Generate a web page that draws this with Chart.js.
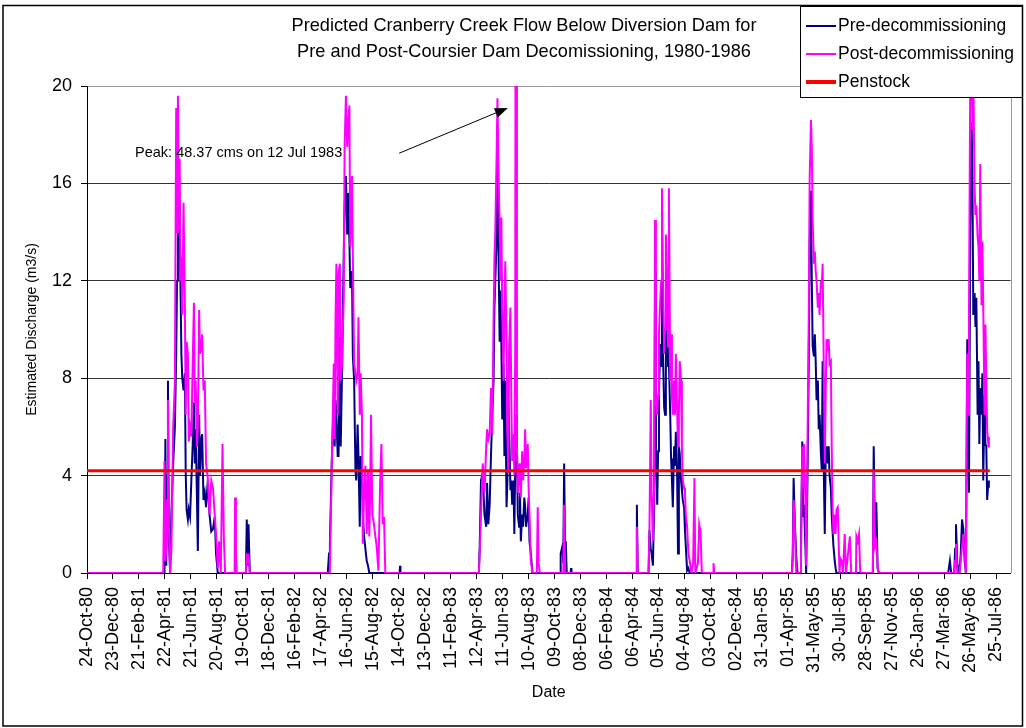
<!DOCTYPE html>
<html>
<head>
<meta charset="utf-8">
<script src="https://cdn.jsdelivr.net/npm/chart.js@4.4.1/dist/chart.umd.min.js"></script>
<style>
  html, body { margin: 0; padding: 0; background: #fff; }
  #wrap { width: 1026px; height: 728px; }
</style>
</head>
<body>
<div id="wrap"><canvas id="flowChart" width="1026" height="728"></canvas></div>
<script>
// days counted from 24-Oct-1980, flows in m3/s
var days = [
  0, 176, 179, 181, 183, 185, 187, 189, 192, 195, 199, 203, 206, 208, 210, 212, 214, 216, 218, 220,
  223, 226, 228, 230, 233, 235, 238, 241, 244, 247, 249, 251, 254, 256, 259, 261, 264, 266, 269, 272,
  275, 279, 283, 287, 291, 295, 298, 302, 305, 309, 313, 316, 319, 341, 342, 344, 346, 367, 369, 371,
  373, 376,
  556, 559, 561, 565, 568, 570, 572, 574, 576, 579, 581, 584, 586, 589, 593, 595, 598, 601, 603, 606,
  608, 612, 614, 617, 620, 622, 625, 627, 630, 632, 635, 637, 640, 643, 646, 649, 652, 654, 656, 659,
  662, 666, 669, 673, 677, 680, 683, 686, 689, 722, 723, 724,
  905, 907, 910, 914, 918, 922, 924, 927, 930, 933, 936, 939, 941, 943, 946, 948, 950, 953, 955, 957,
  959, 962, 964, 966, 969, 971, 973, 975, 978, 980, 982, 985, 987, 989, 991, 993, 995, 998, 1000, 1002,
  1005, 1007, 1010, 1012, 1014, 1018, 1020, 1022, 1025, 1029, 1039, 1041, 1043, 1046, 1093, 1094, 1098, 1100, 1102, 1104,
  1106, 1108, 1117, 1118, 1119,
  1268, 1270, 1272, 1297, 1299, 1302, 1304, 1307, 1310, 1312, 1314, 1317, 1319, 1321, 1324, 1326, 1328, 1330, 1333, 1335,
  1337, 1340, 1342, 1344, 1347, 1349, 1351, 1353, 1356, 1358, 1360, 1363, 1365, 1367, 1369, 1372, 1374, 1376, 1379, 1381,
  1383, 1386, 1389, 1392, 1396, 1400, 1403, 1405, 1411, 1414, 1417, 1420, 1446, 1447, 1449,
  1628, 1630, 1632, 1635, 1638, 1641, 1647, 1649, 1652, 1654, 1656, 1659, 1661, 1664, 1667, 1669, 1672, 1674, 1676, 1679,
  1681, 1683, 1685, 1688, 1690, 1692, 1695, 1697, 1699, 1702, 1704, 1706, 1708, 1711, 1713, 1715, 1718, 1720, 1722, 1724,
  1727, 1729, 1731, 1734, 1736, 1738, 1740, 1743, 1746, 1750, 1753, 1762, 1765, 1776, 1777, 1780, 1783, 1786, 1815, 1817,
  1820, 1823, 1826, 1829,
  1989, 1993, 1996, 2003, 2005, 2007, 2010, 2015, 2018, 2021, 2024, 2027, 2030, 2033, 2035, 2037, 2040, 2043, 2045, 2047,
  2050, 2052, 2054, 2057, 2059, 2061, 2063, 2066, 2068, 2070, 2073, 2075, 2077, 2079, 2082, 2083
];
var preFlow = [
  0, 0, 0, 5.5, 0.3, 4.0, 7.9, 1.5, 0, 2.5, 4.5, 6.0, 9.0, 12.0, 15.6, 13.5, 14.5, 11.7, 9.0, 8.0,
  7.5, 8.2, 4.1, 2.6, 2.2, 2.6, 2.3, 3.8, 5.2, 7.0, 4.5, 5.9, 3.0, 0.9, 6.5, 4.0, 5.5, 5.7, 3.0, 3.3,
  2.7, 3.8, 2.4, 1.7, 1.8, 2.3, 0.8, 0, 0, 0, 0, 0, 0, 0, 0, 0, 0, 0, 2.2, 0.3,
  2.0, 0,
  0, 0.8, 1.2, 4.4, 6.1, 6.0, 5.2, 7.1, 6.5, 4.8, 4.8, 9.7, 5.2, 8.2, 13.2, 15.0, 16.3, 13.9, 15.6, 13.7,
  11.7, 12.4, 8.9, 7.9, 4.2, 3.8, 6.1, 4.8, 1.9, 4.8, 4.5, 2.4, 1.5, 1.0, 0.5, 0.3, 0, 0, 0, 0,
  0, 0, 0, 0, 0, 0, 0, 0, 0, 0, 0.3, 0,
  0, 1.1, 3.8, 4.1, 2.4, 1.9, 3.7, 2.0, 2.8, 4.8, 6.5, 7.9, 10.9, 12.0, 13.7, 16.7, 13.8, 9.5, 11.6, 9.5,
  6.3, 8.6, 4.8, 7.9, 2.7, 3.8, 7.1, 5.9, 3.4, 3.8, 2.8, 3.8, 1.6, 4.4, 6.5, 5.2, 2.4, 1.9, 3.3, 1.3,
  2.4, 1.9, 3.1, 2.7, 1.9, 2.4, 3.1, 1.3, 0.8, 0, 0, 0, 0, 0, 0, 0.8, 1.1, 0.4, 4.5, 1.3,
  1.2, 0, 0, 0.2, 0,
  0, 2.8, 0, 0, 1.75, 1.0, 0.8, 0.3, 2.8, 12.4, 5.1, 2.8, 5.0, 7.4, 9.4, 8.5, 12.0, 9.2, 6.8, 6.5,
  9.7, 11.3, 8.5, 8.6, 6.5, 4.7, 3.8, 2.7, 5.2, 4.4, 5.8, 4.0, 0.8, 5.2, 4.9, 3.8, 3.4, 3.0, 2.7, 1.8,
  1.1, 0.1, 0.2, 0, 0, 0, 0, 0, 0, 0, 0, 0, 0, 0, 0,
  0, 0.8, 3.9, 2.0, 0.7, 0, 0, 1.1, 5.4, 2.3, 2.8, 1.2, 0, 3.8, 8.6, 13.4, 15.7, 12.0, 9.3, 8.9,
  9.8, 8.7, 7.1, 7.9, 5.9, 6.5, 4.9, 4.2, 8.7, 3.8, 1.6, 4.7, 5.2, 4.5, 5.2, 4.0, 3.5, 2.4, 1.7, 1.1,
  0.5, 0.2, 0, 0, 0, 0, 0, 0, 0, 0, 0, 0, 0, 0, 0, 0, 0, 0, 0, 5.2,
  1.3, 2.9, 0.2, 0,
  0, 0.5, 0, 0, 1.0, 2.0, 0.4, 0, 0.8, 2.2, 1.8, 0.5, 0, 9.6, 6.3, 3.3, 14.0, 18.5, 16.3, 10.6,
  11.5, 10.1, 11.3, 6.5, 8.7, 5.3, 7.6, 6.5, 8.2, 3.8, 7.3, 5.3, 5.2, 3.0, 3.8, 3.5
];
var postFlow = [
  0, 0, 4.6, 0.5, 1.0, 3.0, 7.1, 2.0, 0, 1.0, 6.0, 7.8, 19.1, 14.0, 19.6, 15.4, 17.0, 12.0, 13.0, 10.6,
  15.2, 11.0, 6.5, 9.5, 9.0, 5.4, 6.0, 5.6, 8.5, 11.1, 7.0, 7.9, 5.2, 6.0, 10.8, 9.0, 9.3, 9.8, 7.5, 7.9,
  4.5, 3.9, 2.4, 3.8, 3.5, 2.4, 1.6, 0.2, 1.3, 0, 5.3, 1.5, 0, 0, 3.1, 0.8, 0, 0, 0.8, 0.4,
  0.8, 0,
  0, 0, 0.3, 4.0, 6.8, 8.6, 5.5, 10.4, 12.7, 6.5, 12.3, 12.7, 7.9, 8.6, 11.3, 17.5, 19.6, 17.5, 18.4, 19.2,
  13.4, 16.3, 13.0, 8.6, 8.2, 7.9, 8.2, 10.5, 6.5, 8.2, 6.5, 1.2, 3.3, 4.4, 1.6, 4.2, 1.5, 3.3, 6.5, 2.4,
  2.1, 1.5, 1.1, 0.1, 3.7, 5.3, 2.0, 2.3, 0, 0, 0, 0,
  0, 0.8, 2.4, 4.5, 3.3, 5.2, 5.9, 5.5, 5.7, 7.6, 5.7, 10.4, 12.9, 14.0, 17.1, 19.5, 17.1, 14.3, 12.0, 14.6,
  11.0, 7.9, 10.6, 12.8, 9.3, 5.9, 4.1, 9.3, 10.9, 7.2, 4.6, 5.7, 4.0, 9.3, 48.37, 5.2, 3.3, 4.5, 3.8, 3.1,
  5.0, 3.8, 4.6, 5.9, 4.3, 5.3, 3.5, 2.4, 0.5, 0, 0, 2.7, 0.4, 0, 0, 0, 0, 0, 2.8, 0,
  0, 0, 0, 0, 0,
  0, 1.9, 0, 0, 1.6, 7.1, 3.3, 1.3, 3.8, 14.5, 7.2, 6.5, 7.3, 9.8, 11.2, 12.0, 15.8, 12.7, 9.0, 10.0,
  13.9, 12.0, 9.3, 15.8, 7.9, 9.8, 7.2, 6.5, 7.9, 6.5, 9.0, 6.7, 5.2, 6.5, 8.7, 7.9, 5.2, 3.8, 3.5, 3.3,
  2.4, 1.9, 0.8, 0.5, 0, 0.4, 3.9, 0, 0.4, 2.0, 1.7, 0, 0, 0.4, 0,
  0, 0.5, 3.0, 1.9, 0, 0, 0, 0.5, 5.2, 3.5, 5.3, 3.1, 0.3, 5.2, 10.6, 16.1, 18.6, 17.5, 14.5, 12.7,
  13.2, 12.4, 12.0, 10.9, 11.5, 10.6, 12.0, 11.7, 12.7, 7.9, 4.5, 7.2, 9.6, 9.3, 9.6, 8.6, 8.7, 5.2, 2.7, 1.6,
  2.4, 1.6, 2.6, 2.7, 1.3, 0, 0.6, 0.5, 0, 1.6, 0, 1.5, 0, 0, 1.5, 1.3, 1.6, 0, 0, 4.2,
  1.1, 1.3, 0.2, 0,
  0, 0, 0, 0, 0.5, 1.2, 0, 0, 0.5, 1.1, 1.6, 0.8, 0, 9.0, 6.5, 10.6, 20.5, 21.5, 18.2, 20.5,
  15.8, 14.7, 15.1, 13.8, 13.4, 12.0, 16.8, 11.0, 13.6, 11.0, 6.5, 10.2, 7.9, 5.9, 5.2, 5.6
];
var penstockDays = [0, 2085];
var penstockFlow = [4.2, 4.2];

var tickLabels = [
  "24-Oct-80", "23-Dec-80", "21-Feb-81", "22-Apr-81", "21-Jun-81", "20-Aug-81", "19-Oct-81", "18-Dec-81",
  "16-Feb-82", "17-Apr-82", "16-Jun-82", "15-Aug-82", "14-Oct-82", "13-Dec-82", "11-Feb-83", "12-Apr-83",
  "11-Jun-83", "10-Aug-83", "09-Oct-83", "08-Dec-83", "06-Feb-84", "06-Apr-84", "05-Jun-84", "04-Aug-84",
  "03-Oct-84", "02-Dec-84", "31-Jan-85", "01-Apr-85", "31-May-85", "30-Jul-85", "28-Sep-85", "27-Nov-85",
  "26-Jan-86", "27-Mar-86", "26-May-86", "25-Jul-86"
];
var tickStep = 60;
var axisEndDay = 2133;

var titleLines = [
  "Predicted Cranberry Creek Flow Below Diversion Dam for",
  "Pre and Post-Coursier Dam Decomissioning, 1980-1986"
];
var peakText = "Peak: 48.37 cms on 12 Jul 1983";

var FONT = "'Liberation Sans', Arial, sans-serif";

function toPoints(xs, ys) {
  return xs.map((x, i) => ({ x: x, y: ys[i] }));
}

// title, legend box, peak note, frame
var decorations = {
  id: "decorations",
  beforeDraw(chart) {
    let ctx = chart.ctx;
    ctx.save();
    ctx.fillStyle = "#fff";
    ctx.fillRect(0, 0, chart.width, chart.height);
    ctx.restore();
  },
  afterDraw(chart) {
    let ctx = chart.ctx;
    let area = chart.chartArea;
    let xs = chart.scales.x;
    let ys = chart.scales.y;
    ctx.save();

    // right border of plot
    ctx.strokeStyle = "#999";
    ctx.lineWidth = 1;
    ctx.beginPath();
    ctx.moveTo(Math.round(area.right) + 0.5, area.top);
    ctx.lineTo(Math.round(area.right) + 0.5, area.bottom);
    ctx.stroke();

    // title
    ctx.fillStyle = "#000";
    ctx.font = "18.2px " + FONT;
    ctx.textAlign = "center";
    ctx.textBaseline = "middle";
    ctx.fillText(titleLines[0], 524, 26);
    ctx.fillText(titleLines[1], 524, 52);

    // peak annotation
    ctx.font = "14.5px " + FONT;
    ctx.textAlign = "left";
    ctx.fillText(peakText, xs.getPixelForValue(111), ys.getPixelForValue(17.25));
    let x0 = xs.getPixelForValue(721), y0 = ys.getPixelForValue(17.24);
    let x1 = xs.getPixelForValue(972), y1 = ys.getPixelForValue(19.1);
    let ang = Math.atan2(y1 - y0, x1 - x0);
    ctx.strokeStyle = "#000";
    ctx.lineWidth = 1;
    ctx.beginPath();
    ctx.moveTo(x0, y0);
    ctx.lineTo(x1 - 10 * Math.cos(ang), y1 - 10 * Math.sin(ang));
    ctx.stroke();
    ctx.beginPath();
    ctx.moveTo(x1, y1);
    ctx.lineTo(x1 - 13 * Math.cos(ang) + 5 * Math.sin(ang), y1 - 13 * Math.sin(ang) - 5 * Math.cos(ang));
    ctx.lineTo(x1 - 13 * Math.cos(ang) - 5 * Math.sin(ang), y1 - 13 * Math.sin(ang) + 5 * Math.cos(ang));
    ctx.closePath();
    ctx.fill();

    // legend
    let lx = 800.5, ly = 6.5, lw = 222, lh = 91;
    ctx.fillStyle = "#fff";
    ctx.fillRect(lx, ly, lw, lh);
    ctx.strokeStyle = "#000";
    ctx.strokeRect(lx, ly, lw, lh);
    let entries = chart.data.datasets.slice().sort((a, b) => a.legendRank - b.legendRank);
    ctx.font = "17.5px " + FONT;
    ctx.textBaseline = "middle";
    entries.forEach((ds, i) => {
      let cy = 26 + i * 28;
      ctx.strokeStyle = ds.borderColor;
      ctx.lineWidth = ds.legendWidth;
      ctx.beginPath();
      ctx.moveTo(806, cy);
      ctx.lineTo(836, cy);
      ctx.stroke();
      ctx.fillStyle = "#000";
      ctx.fillText(ds.label, 838, cy);
    });

    // outer frame
    ctx.strokeStyle = "#000";
    ctx.lineWidth = 1.5;
    ctx.strokeRect(3, 5.5, 1019.5, 720.5);
    ctx.restore();
  }
};

new Chart(document.getElementById("flowChart"), {
  type: "line",
  data: {
    datasets: [
      {
        label: "Pre-decommissioning",
        data: toPoints(days, preFlow),
        borderColor: "#000080",
        borderWidth: 2,
        legendRank: 0,
        legendWidth: 2,
        order: 3
      },
      {
        label: "Post-decommissioning",
        data: toPoints(days, postFlow),
        borderColor: "#FF00FF",
        borderWidth: 2,
        legendRank: 1,
        legendWidth: 2,
        order: 2
      },
      {
        label: "Penstock",
        data: toPoints(penstockDays, penstockFlow),
        borderColor: "#FF0000",
        borderWidth: 3,
        legendRank: 2,
        legendWidth: 4,
        order: 1
      }
    ]
  },
  options: {
    responsive: false,
    animation: false,
    layout: { padding: { top: 86, right: 10, left: 0, bottom: 0 } },
    elements: { point: { radius: 0 }, line: { tension: 0 } },
    plugins: { legend: { display: false }, tooltip: { enabled: false } },
    scales: {
      x: {
        type: "linear",
        min: 0,
        max: axisEndDay,
        afterBuildTicks: (axis) => {
          axis.ticks = tickLabels.map((_, i) => ({ value: i * tickStep }));
        },
        afterFit: (scale) => { scale.height = 155; },
        ticks: {
          autoSkip: false,
          minRotation: 90,
          maxRotation: 90,
          padding: 8,
          color: "#000",
          font: { family: FONT, size: 18 },
          callback: (value, index) => tickLabels[index]
        },
        grid: { drawOnChartArea: false, drawTicks: true, tickLength: 6, tickColor: "#000" },
        border: { color: "#000", width: 1 },
        title: {
          display: true,
          text: "Date",
          color: "#000",
          font: { family: FONT, size: 16 },
          padding: { top: 0, bottom: 26 }
        }
      },
      y: {
        min: 0,
        max: 20,
        afterFit: (scale) => { scale.width = 87; },
        ticks: {
          stepSize: 4,
          padding: 9,
          color: "#000",
          font: { family: FONT, size: 18 }
        },
        grid: {
          color: (c) => (c.tick && c.tick.value === 20 ? "#999" : "#333"),
          tickColor: "#000",
          tickLength: 6
        },
        border: { color: "#000", width: 1 },
        title: {
          display: true,
          text: "Estimated Discharge (m3/s)",
          color: "#000",
          font: { family: FONT, size: 14 },
          padding: { top: 24, bottom: 0 }
        }
      }
    }
  },
  plugins: [decorations]
});
</script>
</body>
</html>
